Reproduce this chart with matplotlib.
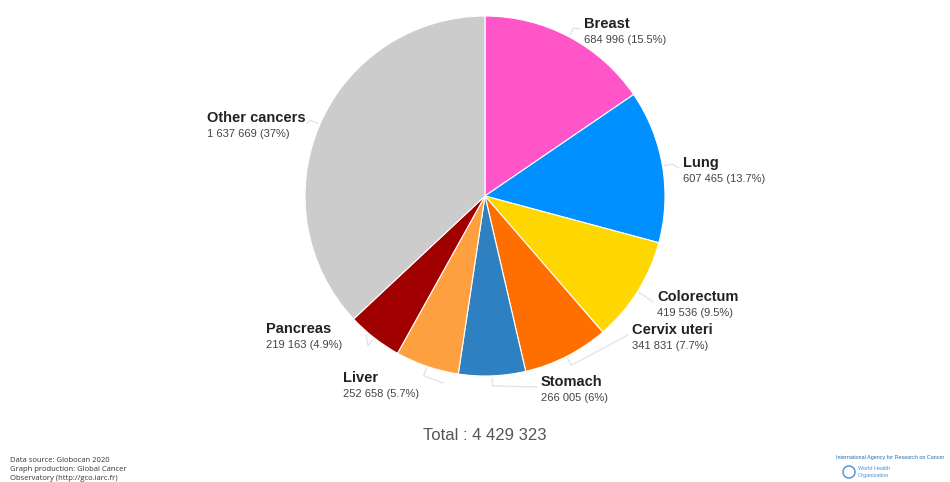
import numpy as np
import matplotlib.pyplot as plt

# Cancer cases, females — Globocan 2020
cancers = ['Breast', 'Lung', 'Colorectum', 'Cervix uteri', 'Stomach',
           'Liver', 'Pancreas', 'Other cancers']
cases = [684996, 607465, 419536, 341831, 266005, 252658, 219163, 1637669]
shares = ['15.5%', '13.7%', '9.5%', '7.7%', '6%', '5.7%', '4.9%', '37%']
colors = ['#ff55c8', '#0090ff', '#ffd700', '#ff6f00', '#2e80c0',
          '#ffa040', '#a00000', '#cccccc']
total = 4429323

# label anchor positions in pixels (x, y from top)
label_pos = [(584, 24), (683, 163), (657, 297), (632, 330), (541, 382),
             (343, 378), (266, 329), (207, 118)]

W, H = 950, 482
fig = plt.figure(figsize=(W / 100, H / 100), dpi=100)
ax = fig.add_axes([0, 0, 1, 1])

cx, cy, r = 485, H - 196, 180
wedges, _ = ax.pie(cases, colors=colors, startangle=90, counterclock=False,
                   radius=r, center=(cx, cy), frame=True,
                   wedgeprops=dict(linewidth=0.8, edgecolor='white'))
ax.set_xlim(0, W)
ax.set_ylim(0, H)
ax.axis('off')


def fmt(n):
    return f'{n:,}'.replace(',', ' ')


for w, name, n, s, (lx, ly) in zip(wedges, cancers, cases, shares, label_pos):
    ang = np.deg2rad((w.theta1 + w.theta2) / 2)
    x0, y0 = cx + (r + 2) * np.cos(ang), cy + (r + 2) * np.sin(ang)
    x1, y1 = cx + (r + 10) * np.cos(ang), cy + (r + 10) * np.sin(ang)
    ty = H - ly
    ex = lx - 4 if lx > cx else lx + 100
    ax.plot([x0, x1, ex], [y0, y1, ty - 5], color='#e2e2e2', lw=0.9,
            solid_capstyle='round')
    ax.text(lx, ty, name, fontsize=10.5, fontweight='bold', color='#222222',
            family='Liberation Sans', ha='left', va='center')
    ax.text(lx, ty - 16, f'{fmt(n)} ({s})', fontsize=8, color='#444444',
            family='Liberation Sans', ha='left', va='center')

ax.text(485, H - 436, f'Total : {fmt(total)}', fontsize=12, color='#555555',
        family='Liberation Sans', ha='center', va='center')

footer = ['Data source: Globocan 2020', 'Graph production: Global Cancer',
          'Observatory (http://gco.iarc.fr)']
for i, line in enumerate(footer):
    ax.text(10, H - 460 - i * 9.5, line, fontsize=5.5, color='#333333',
            family='Open Sans', ha='left', va='center')

ax.text(836, H - 458, 'International Agency for Research on Cancer',
        fontsize=3.9, color='#1f6fb5', family='Liberation Sans',
        ha='left', va='center')
ax.add_patch(plt.Circle((849, H - 472), 6, facecolor='white',
                        edgecolor='#4a8fd0', lw=1))
ax.text(858, H - 469, 'World Health', fontsize=4, color='#4a8fd0',
        family='Liberation Sans', ha='left', va='center')
ax.text(858, H - 475, 'Organization', fontsize=4, color='#4a8fd0',
        family='Liberation Sans', ha='left', va='center')

fig.savefig('out.png', dpi=100)
